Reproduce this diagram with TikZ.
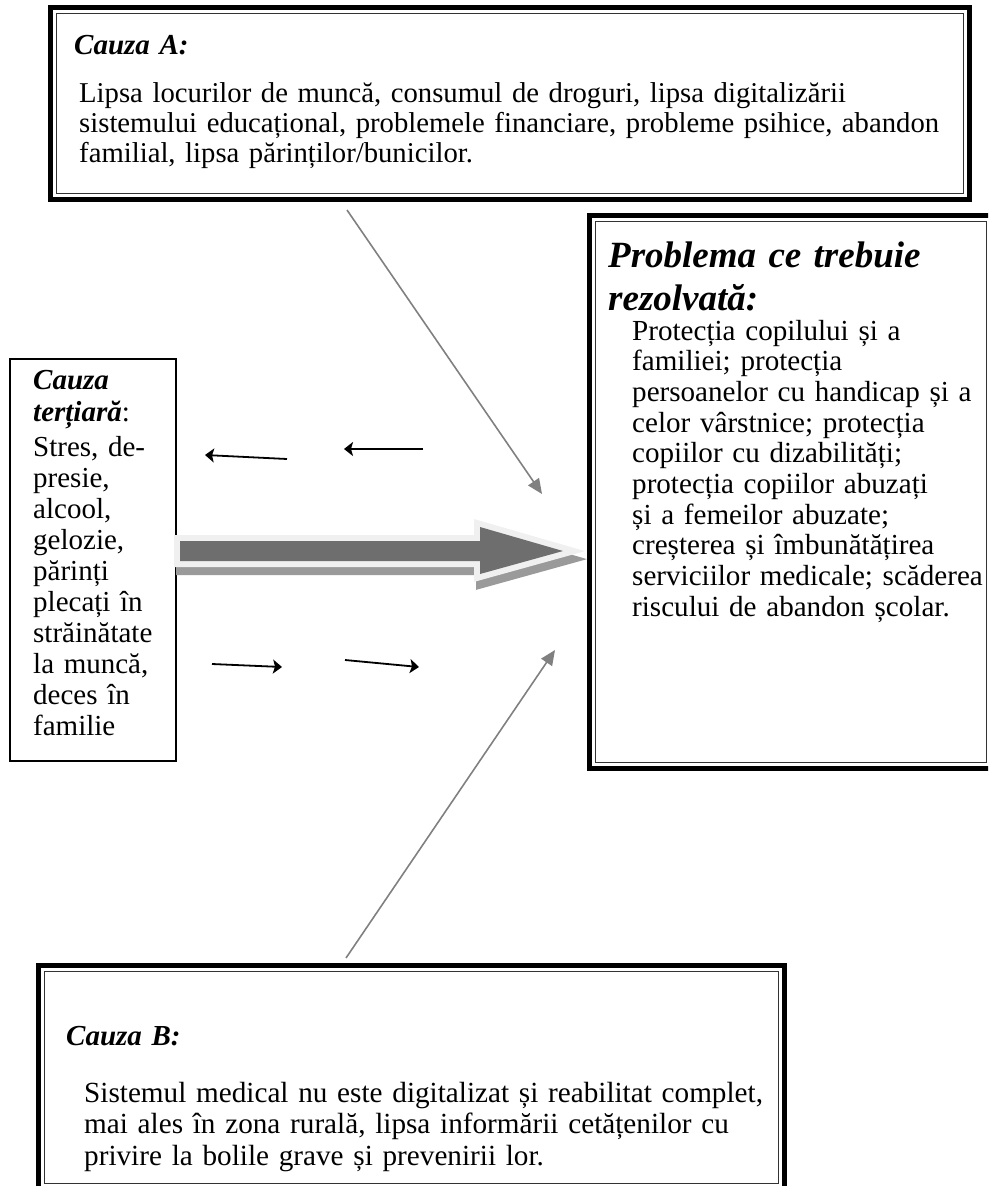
\documentclass[tikz,border=0pt]{standalone}
\usepackage{fontspec}
\setmainfont{Liberation Serif}
\usetikzlibrary{arrows.meta}
\definecolor{arrowgray}{HTML}{808080}
\definecolor{blockdark}{HTML}{6E6E6E}
\definecolor{blockrim}{HTML}{F0F0F0}
\definecolor{blockshadow}{HTML}{9A9A9A}
\definecolor{innerline}{HTML}{333333}
\begin{document}
\begin{tikzpicture}[x=1pt,y=-1pt,
  txt/.style={anchor=base west, inner sep=0pt, text width=#1, align=left},
  txt/.default=900pt,
  bodyfont/.style 2 args={font=\fontsize{#1}{#2}\selectfont},
  headfont/.style={font=\fontsize{29}{#1}\selectfont\bfseries\itshape},
  thickrim/.style={draw=black, line width=5pt},
  thinrim/.style={draw=innerline, line width=1.3pt},
  plainrim/.style={draw=black, line width=1.5pt},
  grayarrow/.style={draw=arrowgray, line width=1.6pt, -{Triangle[length=15pt,width=13pt]}},
  blackarrow/.style={draw=black, line width=1.8pt, -{Stealth[length=9pt,width=14pt,inset=2pt]}}]
\useasboundingbox (0,0) rectangle (988,1186);
\clip (0,0) rectangle (988,1186);

% frame of Cauza A
\draw[thickrim] (50.5,7.5) rectangle (969.5,199.5);
\draw[thinrim] (56.5,13.5) rectangle (963.5,193.5);
\node[txt, headfont=30] (titleA) at (74,54) {Cauza A:};
\node[txt, bodyfont={28.7}{30}] (textA) at (79,102)
  {Lipsa locurilor de muncă, consumul de droguri, lipsa digitalizării\\
   sistemului educațional, problemele financiare, probleme psihice, abandon\\
   familial, lipsa părinților/bunicilor.};

% frame of the problem box
\draw[thickrim] (589.5,215.5) rectangle (993,768.5);
\draw[thinrim] (595.5,221.5) rectangle (986.5,762.5);
\node[txt=380pt, font=\fontsize{37}{43}\selectfont\bfseries\itshape] (titleP) at (608,267)
  {Problema ce trebuie\\ rezolvată:};
\node[txt=360pt, bodyfont={29.1}{30.7}] (textP) at (632,340)
  {Protecția copilului și a\\
   familiei; protecția\\
   persoanelor cu handicap și a\\
   celor vârstnice; protecția\\
   copiilor cu dizabilități;\\
   protecția copiilor abuzați\\
   și a femeilor abuzate;\\
   creșterea și îmbunătățirea\\
   serviciilor medicale; scăderea\\
   riscului de abandon școlar.};

% frame of the tertiary cause
\draw[plainrim] (10,359) rectangle (176,761);
\node[txt=160pt, bodyfont={29}{32}] (titleT) at (33,389)
  {\textbf{\textit{Cauza}}\\ \textbf{\textit{terțiară}}:};
\node[txt=160pt, bodyfont={29}{31.1}] (textT) at (33,456)
  {Stres, de-\\ presie,\\ alcool,\\ gelozie,\\ părinți\\ plecați în\\
   străinătate\\ la muncă,\\ deces în\\ familie};

% frame of Cauza B
\draw[thickrim] (38.5,965.5) rectangle (784.5,1192);
\draw[thinrim] (44.5,971.5) rectangle (778.5,1183.5);
\node[txt, headfont=30] (titleB) at (66,1045) {Cauza B:};
\node[txt, bodyfont={29.2}{31.5}] (textB) at (84,1102)
  {Sistemul medical nu este digitalizat și reabilitat complet,\\
   mai ales în zona rurală, lipsa informării cetățenilor cu\\
   privire la bolile grave și prevenirii lor.};

% broad block arrow: shadow, light rim, dark body
\def\blockarrow{(180,541) -- (480,541) -- (480,527) -- (563,551) -- (480,574) -- (480,561) -- (180,561) -- cycle}
\filldraw[blockshadow, line width=12pt, shift={(2,8)}] \blockarrow;
\filldraw[blockrim, line width=12pt] \blockarrow;
\fill[blockdark] \blockarrow;

% gray connectors from the two causes
\coordinate (aStart) at (347,210);
\coordinate (aEnd) at (542,494);
\coordinate (bStart) at (346,958);
\coordinate (bEnd) at (555,650);
\draw[grayarrow] (aStart) -- (aEnd);
\draw[grayarrow] (bStart) -- (bEnd);

% small black arrows
\coordinate (k1s) at (287,459); \coordinate (k1e) at (205,455);
\coordinate (k2s) at (423,449); \coordinate (k2e) at (344,449);
\coordinate (k3s) at (212,664); \coordinate (k3e) at (282,667);
\coordinate (k4s) at (345,660); \coordinate (k4e) at (419,667);
\draw[blackarrow] (k1s) -- (k1e);
\draw[blackarrow] (k2s) -- (k2e);
\draw[blackarrow] (k3s) -- (k3e);
\draw[blackarrow] (k4s) -- (k4e);
\end{tikzpicture}
\end{document}
